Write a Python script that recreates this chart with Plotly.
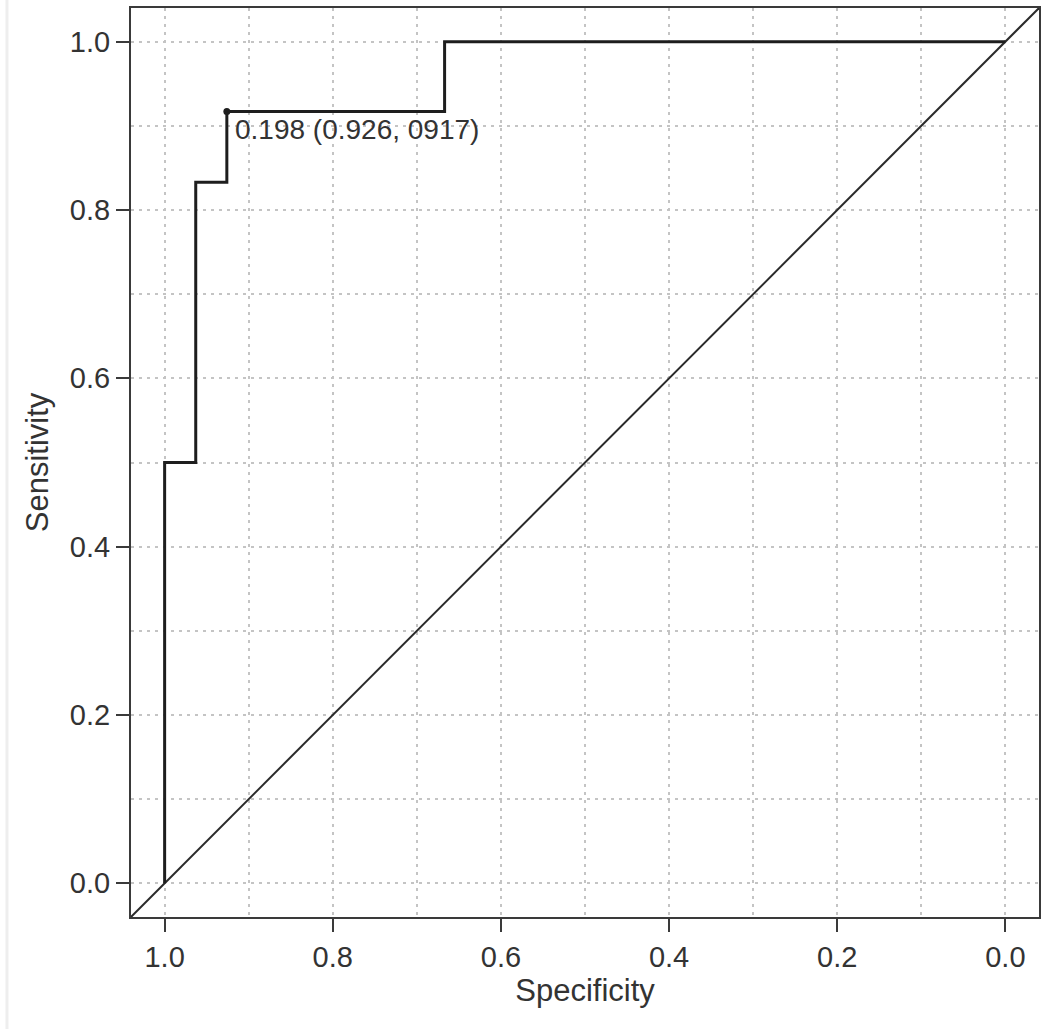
import plotly.graph_objects as go

# ROC curve steps (specificity, sensitivity)
specificity = [1.0, 1.0, 0.963, 0.963, 0.926, 0.926, 0.667, 0.667, 0.0]
sensitivity = [0.0, 0.5, 0.5, 0.833, 0.833, 0.917, 0.917, 1.0, 1.0]

best_spec = [0.926]
best_sens = [0.917]
best_label = "0.198 (0.926, 0917)"

x_range = [1.04, -0.04]
y_range = [-0.04, 1.04]
tick_vals = [0.0, 0.2, 0.4, 0.6, 0.8, 1.0]
tick_text = ["0.0", "0.2", "0.4", "0.6", "0.8", "1.0"]

axis_col = "#3a3a3a"
grid_col = "#c4c4c4"
text_col = "#333333"
font_fam = "Liberation Sans, Arial, sans-serif"

fig = go.Figure()

# chance line across the whole plotting region
fig.add_trace(go.Scatter(x=x_range, y=y_range, mode="lines",
                         line=dict(color="#2a2a2a", width=2), hoverinfo="skip"))

fig.add_trace(go.Scatter(x=specificity, y=sensitivity, mode="lines",
                         line=dict(color="#1e1e1e", width=3)))

fig.add_trace(go.Scatter(x=best_spec, y=best_sens, mode="markers",
                         marker=dict(color="#1e1e1e", size=7)))

fig.add_annotation(x=best_spec[0], y=best_sens[0], text=best_label,
                   showarrow=False, xanchor="left", yanchor="top",
                   xshift=6, yshift=0,
                   font=dict(family=font_fam, size=28, color=text_col))

axis_common = dict(showline=True, mirror=True, linecolor=axis_col, linewidth=2,
                   ticks="outside", ticklen=13, tickwidth=2, tickcolor=axis_col,
                   tickvals=tick_vals, ticktext=tick_text,
                   showgrid=True, gridcolor=grid_col, gridwidth=2, griddash="3px,5px",
                   minor=dict(dtick=0.1, tick0=0, showgrid=True, gridcolor=grid_col,
                              gridwidth=2, griddash="3px,5px", ticks=""),
                   zeroline=False,
                   tickfont=dict(family=font_fam, size=29, color=text_col),
                   title_font=dict(family=font_fam, size=31, color=text_col))

fig.update_xaxes(range=x_range, title_text="Specificity", title_standoff=6, **axis_common)
fig.update_yaxes(range=y_range, title_text="Sensitivity", title_standoff=12, **axis_common)

# thin grey border at the very left of the picture
fig.add_shape(type="line", xref="paper", yref="paper", x0=-0.1366, x1=-0.1366,
              y0=-0.13, y1=1.01, line=dict(color="#c8c8c8", width=3))

fig.update_layout(width=1050, height=1029, showlegend=False,
                  template="simple_white",
                  plot_bgcolor="white", paper_bgcolor="white",
                  margin=dict(l=131, r=11, t=6, b=112))

fig.write_html("out.html", config={"displayModeBar": False},
               post_script="document.body.style.margin='0';"
                           "document.body.style.overflow='hidden';")
